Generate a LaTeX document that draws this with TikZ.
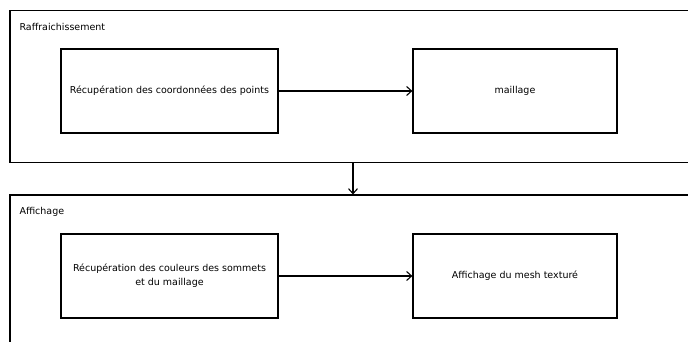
\documentclass[tikz,border=0pt]{standalone}
\usepackage{fontspec}
\setmainfont{DejaVu Sans}
\usetikzlibrary{arrows.meta}
\usetikzlibrary{calc}

\begin{document}
\begin{tikzpicture}[x=1pt, y=-1pt, >={Straight Barb[length=5pt, width=9pt]}]
		\useasboundingbox (0,0) rectangle (688,341);
		\clip (0,0) rectangle (688,341);
		
		\begin{scope}[every node/.style={rectangle, draw, line width = 1.1pt, inner sep = 0pt}]
		\node (haut) [minimum width = 686pt, minimum height = 152pt] at (353, 86.5) {};
		\node (bas) [minimum width = 686pt, minimum height = 160pt] at (353, 275) {};
		\end{scope}
		
		\begin{scope}[every node/.style={anchor = west, font = \fontsize{9.5}{12}\selectfont}]
		\node (titrehaut) at (16, 27) {Raffraichissement};
		\node (titrebas) at (16, 212) {Affichage};
		\end{scope}
		
		\begin{scope}[every node/.style={rectangle, draw, line width = 1.2pt, minimum height = 84pt, inner sep = 2pt, align = center, font = \fontsize{9.5}{14}\selectfont}]
		\node (coords) [minimum width = 217pt] at (169.5, 91) {Récupération des coordonnées des points};
		\node (maillage) [minimum width = 204pt] at (515, 91) {maillage};
		\node (couleurs) [minimum width = 217pt] at (169.5, 276) {Récupération des couleurs des sommets\\et du maillage};
		\node (mesh) [minimum width = 204pt] at (515, 276) {Affichage du mesh texturé};
		\end{scope}
		
		\begin{scope}[line width = 1.1pt]
		\path [->] 	(coords) edge [] node {} (maillage);
		\path [->] 	(couleurs) edge [] node {} (mesh);
		\path [->] 	(haut) edge [] node {} (bas);
		\end{scope}
		
\end{tikzpicture}
\end{document}
